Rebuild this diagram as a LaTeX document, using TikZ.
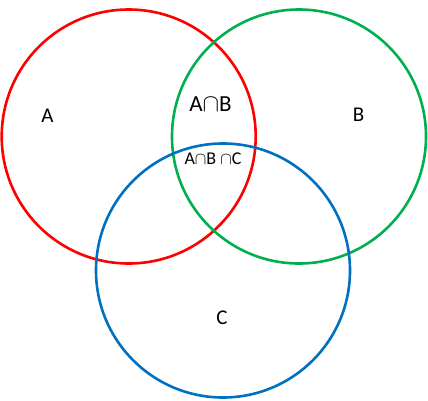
\documentclass[tikz,border=0pt]{standalone}
\usepackage{fontspec}
\setmainfont{Carlito}
\definecolor{cred}{RGB}{255,0,0}
\definecolor{cgreen}{RGB}{0,176,80}
\definecolor{cblue}{RGB}{0,112,192}
\begin{document}
\begin{tikzpicture}[x=1pt,y=-1pt,
  ring/.style={draw=#1,line width=2.6pt,circle,minimum size=254pt,inner sep=0pt},
  lbl/.style={font=\fontsize{21}{25}\selectfont,inner sep=0pt},
  big/.style={font=\fontsize{23}{27}\selectfont,inner sep=0pt},
  small/.style={font=\fontsize{18}{21}\selectfont,inner sep=0pt}]
\useasboundingbox (0,0) rectangle (428,400);
\node[ring=cred] (ra) at (128.7,136.5) {};
\node[ring=cgreen] (rb) at (299,136.5) {};
\node[ring=cblue] (rc) at (223,270.5) {};
\node[lbl] (la) at (47.5,116) {A};
\node[lbl] (lb) at (358.5,115) {B};
\node[lbl] (lc) at (222,318) {C};
\node[big] (lab) at (210.5,104) {A$\cap$B};
\node[small] (labc) at (213,158.5) {A$\cap$B $\cap$C};
\end{tikzpicture}
\end{document}
